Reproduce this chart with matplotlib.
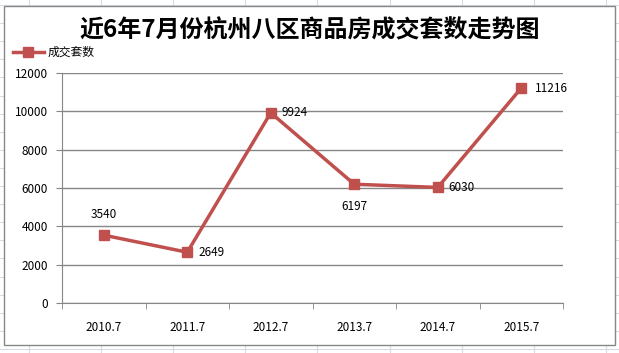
import numpy as np
import matplotlib.pyplot as plt
from matplotlib.patches import Rectangle
from matplotlib.lines import Line2D

plt.rcParams['font.family'] = ['Noto Sans CJK SC', 'DejaVu Sans']

categories = ['2010.7', '2011.7', '2012.7', '2013.7', '2014.7', '2015.7']
values = [3540, 2649, 9924, 6197, 6030, 11216]
series_name = '成交套数'
title = '近6年7月份杭州八区商品房成交套数走势图'
yticks = [0, 2000, 4000, 6000, 8000, 10000, 12000]

W, H = 619, 353
fig = plt.figure(figsize=(W / 100, H / 100), dpi=100)

# faint spreadsheet cells behind the chart
for gx in np.arange(28.5, W, 72.2):
    fig.add_artist(Line2D([gx / W, gx / W], [0, 1], color='#d6dbe5', lw=0.8, zorder=0))
for gy in np.arange(5, H, 18.1):
    fig.add_artist(Line2D([0, 1], [1 - gy / H, 1 - gy / H], color='#d6dbe5', lw=0.8, zorder=0))

# chart area
fig.add_artist(Rectangle((4 / W, 1 - 345 / H), 611 / W, 339 / H, facecolor='white',
                         edgecolor='#878787', lw=1.0, zorder=1))

ax = fig.add_axes([62 / W, 1 - 303 / H, 501 / W, 230 / H], zorder=2)
ax.set_facecolor('none')
x = np.arange(len(categories))
ax.plot(x, values, color='#c0504d', lw=2.5, marker='s', markersize=7,
        markeredgecolor='#c0504d', label=series_name, zorder=3)

offsets = [(0, 10, 'center', 'bottom'), (8, 0, 'left', 'center'), (8, 0, 'left', 'center'),
           (0, -11, 'center', 'top'), (8, 0, 'left', 'center'), (10, 0, 'left', 'center')]
for xi, v, (dx, dy, ha, va) in zip(x, values, offsets):
    ax.annotate(str(v), (xi, v), xytext=(dx, dy), textcoords='offset points',
                ha=ha, va=va, fontsize=8.5, color='black')

ax.set_xlim(-0.5, len(categories) - 0.5)
ax.set_ylim(0, 12000)
ax.set_yticks(yticks)
ax.set_yticklabels([str(t) for t in yticks], fontsize=8.5)
ax.set_xticks(x)
ax.set_xticklabels(categories, fontsize=8.5)
ax.set_xticks(np.arange(-0.5, len(categories)), minor=True)
ax.tick_params(axis='x', which='major', length=0, pad=13)
ax.tick_params(axis='x', which='minor', length=4, color='#868686', direction='out')
ax.tick_params(axis='y', length=4, color='#868686', direction='out', pad=6)
ax.grid(axis='y', color='#868686', lw=1.0)
ax.set_axisbelow(True)
for s in ['top', 'right']:
    ax.spines[s].set_visible(False)
for s in ['left', 'bottom']:
    ax.spines[s].set_color('#868686')

fig.text(0.5, 1 - 30 / H, title, ha='center', va='center', fontsize=17.3, fontweight='bold', zorder=3)
ax.legend(loc='upper left', bbox_to_anchor=(13 / W, 1 - 46 / H), bbox_transform=fig.transFigure,
          frameon=False, fontsize=8.5, handlelength=2.6, handletextpad=0.3, borderpad=0,
          borderaxespad=0)

fig.savefig('out.png', dpi=100)
